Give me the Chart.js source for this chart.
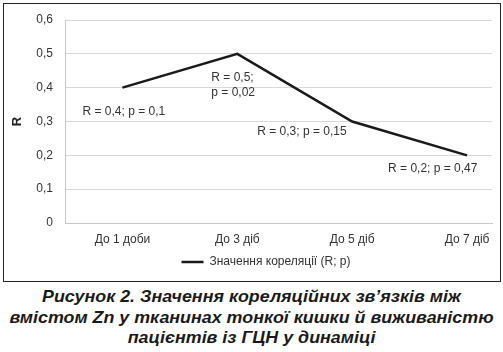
<!DOCTYPE html>
<html lang="uk">
<head>
    <meta charset="UTF-8">
    <title>Рисунок 2</title>
    <script src="https://cdn.jsdelivr.net/npm/chart.js"></script>
    <style>
        body {
            margin: 0;
            background: #fff;
            width: 503px;
            height: 352px;
            position: relative;
            overflow: hidden;
            font-family: "Liberation Sans", Arial, sans-serif;
        }
        #frame {
            position: absolute;
            left: 3px;
            top: 3px;
            width: 496px;
            height: 277px;
            border: 1px solid #222;
        }
        #chartBox {
            position: absolute;
            left: 0;
            top: 0;
        }
        #caption {
            position: absolute;
            left: 0;
            top: 287px;
            width: 503px;
            text-align: center;
            font-weight: bold;
            font-style: italic;
            font-size: 17px;
            line-height: 20.5px;
            color: #1a1a1a;
            transform: scaleX(1.05);
            transform-origin: 251px 0;
        }
    </style>
</head>
<body>
    <div id="frame"></div>
    <canvas id="chartBox" width="503" height="282"></canvas>
    <div id="caption">Рисунок 2. Значення кореляційних зв’язків між<br>вмістом Zn у тканинах тонкої кишки й виживаністю<br>пацієнтів із ГЦН у динаміці</div>

<script>
const categories = ['До 1 доби', 'До 3 діб', 'До 5 діб', 'До 7 діб'];
const rValues = [0.4, 0.5, 0.3, 0.2];
const pValues = [0.1, 0.02, 0.15, 0.47];
const yTicks = [0, 0.1, 0.2, 0.3, 0.4, 0.5, 0.6];
const seriesName = 'Значення кореляції (R; p)';

const comma = v => String(v).replace('.', ',');
const textFont = { family: '"Liberation Sans", Arial, sans-serif', size: 12 };

// the labels were placed by hand in the source, so each gets its own shift from its point
const labelShift = [
    { dx: -40, dy: 24 },
    { dx: -26, dy: 24, wrap: true },
    { dx: -95, dy: 10 },
    { dx: -79, dy: 13 }
];

const pointLabels = {
    id: 'pointLabels',
    afterDatasetsDraw(chart) {
        const ctx = chart.ctx;
        const meta = chart.getDatasetMeta(0);
        ctx.save();
        ctx.font = '12px "Liberation Sans", Arial, sans-serif';
        ctx.fillStyle = '#333';
        ctx.textAlign = 'left';
        ctx.textBaseline = 'middle';
        meta.data.forEach((pt, i) => {
            const s = labelShift[i];
            const r = 'R = ' + comma(rValues[i]) + ';';
            const p = 'p = ' + comma(pValues[i]);
            const lines = s.wrap ? [r, p] : [r + ' ' + p];
            lines.forEach((t, k) => ctx.fillText(t, pt.x + s.dx, pt.y + s.dy + k * 15));
        });
        ctx.restore();
    }
};

// the legend sits a little right of the canvas centre in the source
const legendNudge = {
    id: 'legendNudge',
    afterLayout(chart) {
        chart.legend.left += 20;
        chart.legend.right += 20;
    }
};

new Chart(document.getElementById('chartBox'), {
    type: 'line',
    data: {
        datasets: [{
            label: seriesName,
            data: rValues.map((v, i) => ({ x: i, y: v })),
            borderColor: '#1a1a1a',
            backgroundColor: '#1a1a1a',
            borderWidth: 2.5,
            pointRadius: 0,
            tension: 0
        }]
    },
    options: {
        responsive: false,
        animation: false,
        layout: { padding: { left: 0, right: 11, top: 20, bottom: 4 } },
        scales: {
            x: {
                type: 'linear',
                min: -0.5,
                max: 3.217,
                afterBuildTicks: s => { s.ticks = categories.map((c, i) => ({ value: i })); },
                afterFit: s => { s.height = 23; },
                grid: { display: false, drawTicks: false },
                border: { color: '#c8c8c8' },
                ticks: {
                    callback: v => categories[v],
                    padding: 9,
                    maxRotation: 0,
                    autoSkip: false,
                    font: textFont,
                    color: '#333'
                }
            },
            y: {
                min: 0,
                max: 0.6,
                afterBuildTicks: s => { s.ticks = yTicks.map(v => ({ value: v })); },
                afterFit: s => { s.width = 65; },
                grid: { color: '#d9d9d9', drawTicks: false },
                border: { color: '#c8c8c8' },
                ticks: {
                    callback: v => comma(v),
                    padding: 12,
                    font: textFont,
                    color: '#333'
                },
                title: {
                    display: true,
                    text: 'R',
                    font: { family: '"Liberation Sans", Arial, sans-serif', size: 13, weight: 'bold' },
                    color: '#222',
                    padding: { top: 10, bottom: 0 }
                }
            }
        },
        plugins: {
            legend: {
                position: 'bottom',
                labels: {
                    usePointStyle: true,
                    pointStyle: 'line',
                    pointStyleWidth: 22,
                    padding: 10,
                    font: textFont,
                    color: '#333'
                }
            },
            tooltip: { enabled: false }
        }
    },
    plugins: [pointLabels, legendNudge]
});
</script>
</body>
</html>
